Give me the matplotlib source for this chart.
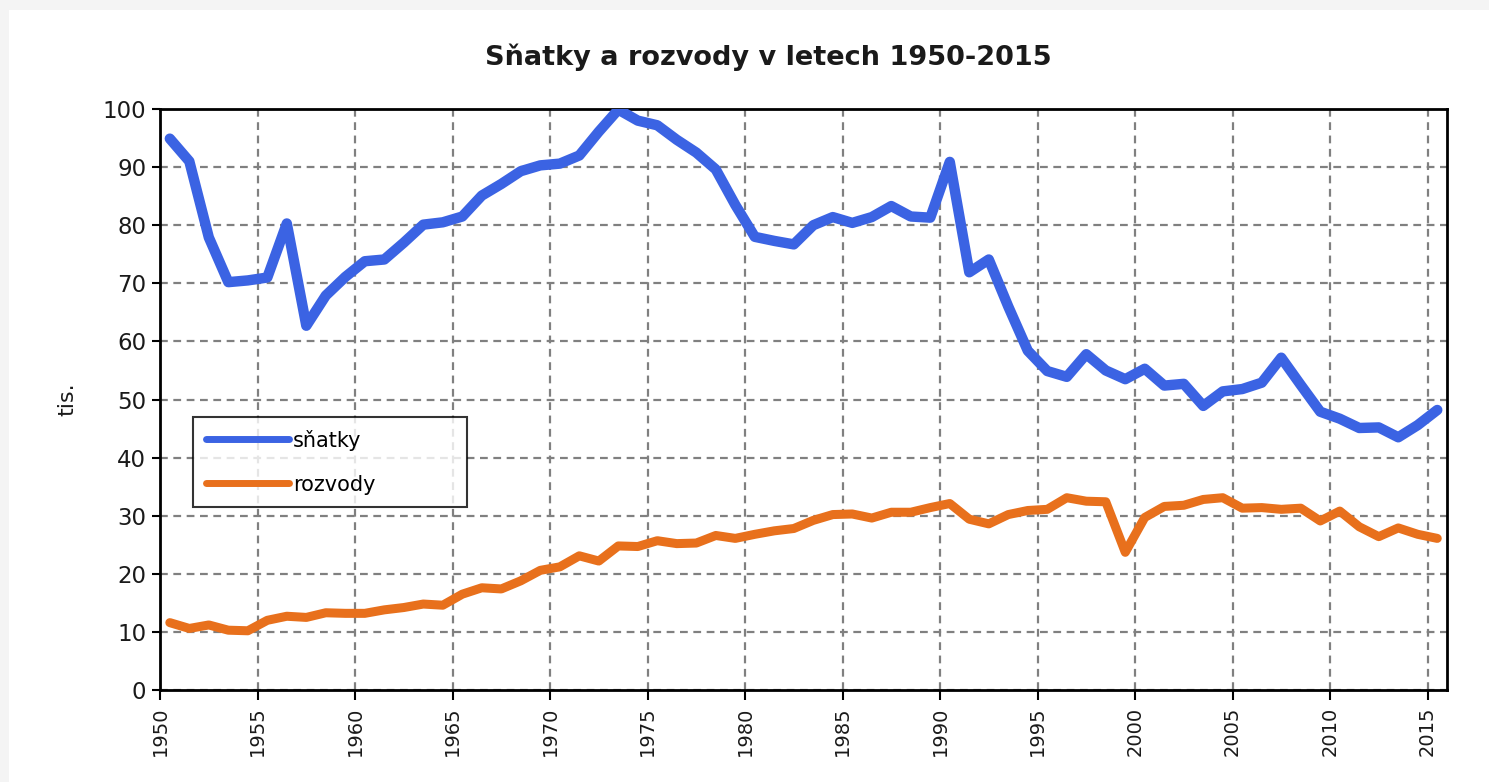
import numpy as np
import matplotlib.pyplot as plt
from matplotlib.patches import Rectangle

# Years 1950-2015, values in thousands (tis.)
years = np.arange(1950, 2016)

snatky = [94.9, 91.0, 77.9, 70.2, 70.5, 71.0, 80.3, 62.7, 67.9, 71.1,
          73.8, 74.1, 77.0, 80.1, 80.5, 81.5, 85.1, 87.1, 89.3, 90.3,
          90.6, 92.0, 96.1, 99.9, 98.0, 97.2, 94.7, 92.5, 89.6, 83.5,
          78.0, 77.3, 76.7, 80.0, 81.4, 80.4, 81.4, 83.3, 81.5, 81.3,
          90.9, 71.9, 74.1, 66.0, 58.4, 54.9, 53.9, 57.8, 55.0, 53.5,
          55.3, 52.4, 52.7, 48.9, 51.4, 51.8, 52.9, 57.2, 52.5, 47.9,
          46.7, 45.1, 45.2, 43.5, 45.6, 48.2]

rozvody = [11.6, 10.6, 11.2, 10.3, 10.2, 12.0, 12.7, 12.5, 13.3, 13.2,
           13.2, 13.8, 14.2, 14.8, 14.6, 16.5, 17.6, 17.4, 18.8, 20.6,
           21.2, 23.1, 22.2, 24.8, 24.7, 25.7, 25.2, 25.3, 26.6, 26.1,
           26.8, 27.4, 27.8, 29.2, 30.2, 30.3, 29.6, 30.6, 30.6, 31.4,
           32.1, 29.4, 28.6, 30.2, 30.9, 31.1, 33.1, 32.5, 32.4, 23.7,
           29.7, 31.6, 31.8, 32.8, 33.1, 31.3, 31.4, 31.1, 31.3, 29.1,
           30.8, 28.1, 26.4, 27.9, 26.8, 26.1]

tick_years = np.arange(1950, 2016, 5)
yticks = np.arange(0, 101, 10)

plt.rcParams['font.family'] = ['DejaVu Sans']

fig = plt.figure(figsize=(14.89, 7.82), dpi=100, facecolor='#f4f4f4')
# white sheet with a thin grey margin on the top and left
fig.patches.append(Rectangle((9 / 1489, 0), 1, 1 - 10 / 782, transform=fig.transFigure,
                             facecolor='white', edgecolor='none', zorder=-10))
ax = fig.add_axes([0.1075, 0.1176, 0.8643, 0.743])

# Excel-style category axis: points sit in the middle of each year slot
x = years + 0.5
ax.plot(x, snatky, color='#3b63e3', lw=7.5, label='sňatky', solid_joinstyle='round',
        solid_capstyle='round', zorder=3)
ax.plot(x, rozvody, color='#e8701c', lw=6.5, label='rozvody', solid_joinstyle='round',
        solid_capstyle='round', zorder=3)

ax.set_xlim(1950, 2016)
ax.set_ylim(0, 100)
ax.set_xticks(tick_years)
ax.set_xticklabels([str(y) for y in tick_years], rotation=90, fontsize=14)
ax.set_yticks(yticks)
ax.tick_params(axis='y', labelsize=16.5, length=6, width=1.5, direction='out', pad=4,
               labelcolor='#1a1a1a')
ax.tick_params(axis='x', length=7, width=1.5, direction='out', pad=5, labelcolor='#1a1a1a')

ax.grid(True, color='#808080', lw=1.6, linestyle=(0, (3.5, 2.5)))
ax.set_axisbelow(True)
for s in ax.spines.values():
    s.set_linewidth(2)
    s.set_color('black')

ax.set_ylabel('tis.', fontsize=16, labelpad=18, color='#1a1a1a')

fig.text(0.516, 0.927, 'Sňatky a rozvody v letech 1950-2015', ha='center', va='center',
         fontsize=19.5, fontweight='bold', color='#1a1a1a')

leg = ax.legend(loc='lower left', bbox_to_anchor=(0.0256, 0.315, 0.213, 0.153), mode='expand',
                fontsize=15, frameon=True, fancybox=False, edgecolor='black',
                handlelength=4.0, handletextpad=0.2, labelspacing=1.15, borderpad=0.6,
                borderaxespad=0)
leg.get_frame().set_linewidth(1.5)
for line in leg.get_lines():
    line.set_linewidth(5)

fig.savefig('out.png', dpi=100, facecolor=fig.get_facecolor())
